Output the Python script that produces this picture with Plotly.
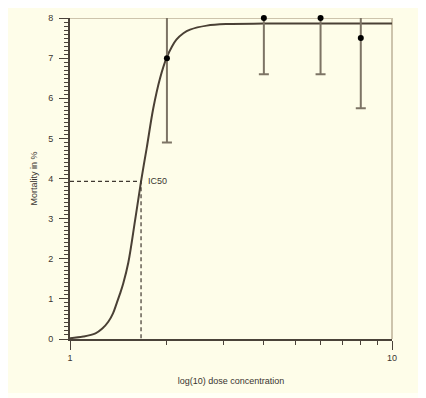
import plotly.graph_objects as go

dose = [2, 4, 6, 8]
mortality = [7.0, 8.0, 8.0, 7.5]
error = [2.1, 1.4, 1.4, 1.75]

# Fitted dose-response curve
curve_x = [1.0, 1.1, 1.2, 1.26, 1.315, 1.36, 1.396, 1.43, 1.464, 1.517, 1.592, 1.662,
           1.73, 1.814, 1.904, 2.0, 2.07, 2.14, 2.25, 2.36, 2.66, 3.07, 4.0, 6.0, 10.0]
curve_y = [0.02, 0.06, 0.14, 0.26, 0.43, 0.64, 0.89, 1.13, 1.39, 1.9, 2.95, 3.93,
           4.75, 5.75, 6.5, 7.03, 7.28, 7.46, 7.62, 7.71, 7.81, 7.85, 7.86, 7.86, 7.86]

# IC50 marker
ic50_x = 1.662
ic50_y = 3.93

x_ticks = [1, 10]
x_minor = [2, 3, 4, 5, 6, 7, 8, 9]
y_ticks = [0, 1, 2, 3, 4, 5, 6, 7, 8]
y_max = 8

bg = "#FEFDE9"
outer = "#FFFFF6"
axis_col = "#4A4239"
border_col = "#CDC4AC"
text_col = "#3A3530"

fig = go.Figure()

fig.add_trace(go.Scatter(
    x=curve_x, y=curve_y, mode="lines",
    line=dict(color="#4A4035", width=2, shape="spline", smoothing=1.0),
    hoverinfo="skip", showlegend=False,
))

fig.add_trace(go.Scatter(
    x=[1, ic50_x, ic50_x], y=[ic50_y, ic50_y, 0], mode="lines",
    line=dict(color="#3F3830", width=1.2, dash="4px,3px"),
    hoverinfo="skip", showlegend=False,
))

# error bars (clipped to plot area)
fig.add_trace(go.Scatter(
    x=dose, y=mortality, mode="markers",
    marker=dict(color="rgba(0,0,0,0)", size=1),
    error_y=dict(type="data", array=error, color="#7D7465", thickness=2, width=5),
    cliponaxis=True, hoverinfo="skip", showlegend=False,
))

# markers (not clipped)
fig.add_trace(go.Scatter(
    x=dose, y=mortality, mode="markers",
    marker=dict(color="black", size=6),
    cliponaxis=False, showlegend=False,
))

fig.add_annotation(x=0.2205, y=ic50_y, xref="x", yref="y", text="IC50",
                   showarrow=False, xanchor="left", xshift=5,
                   font=dict(size=9, color=text_col))

# cream panel (page has an 8px body margin; plot area sits at 70..392 x 18..339)
fig.add_shape(type="rect", xref="paper", yref="paper", layer="below",
              x0=(6 - 70) / 322, x1=(421 - 70) / 322,
              y0=(339 - 393) / 321, y1=(339 - 6) / 321,
              line=dict(width=0), fillcolor=bg)

# top and right frame lines (below the traces)
fig.add_shape(type="line", xref="x domain", yref="y", x0=0, x1=1, y0=y_max, y1=y_max,
              layer="below", line=dict(color=border_col, width=2))
fig.add_shape(type="line", xref="x domain", yref="y domain", x0=1, x1=1, y0=0, y1=1,
              layer="below", line=dict(color=border_col, width=2))

fig.update_xaxes(
    type="log", range=[0, 1], tickvals=x_ticks, ticktext=[str(v) for v in x_ticks],
    showgrid=False, zeroline=False, showline=True, linecolor=axis_col, linewidth=2,
    ticks="outside", ticklen=9, tickwidth=1, tickcolor=axis_col,
    minor=dict(ticks="outside", ticklen=4, tickwidth=1, tickcolor=axis_col,
               tickvals=x_minor, showgrid=False),
    tickfont=dict(size=9, color=text_col), automargin=False,
    title=dict(text="log(10) dose concentration", font=dict(size=9, color=text_col),
               standoff=16),
)
fig.update_yaxes(
    range=[0, y_max], tickvals=y_ticks,
    showgrid=False, zeroline=False, showline=True, linecolor=axis_col, linewidth=2,
    ticks="outside", ticklen=9, tickwidth=1, tickcolor=axis_col,
    minor=dict(ticks="outside", ticklen=4, tickwidth=1, tickcolor=axis_col,
               dtick=0.1, showgrid=False),
    tickfont=dict(size=9, color=text_col), ticklabelstandoff=4, automargin=False,
    title=dict(text="Mortality in %", font=dict(size=9, color=text_col), standoff=9),
)

fig.update_layout(
    width=426, height=398,
    margin=dict(l=62, r=42, t=10, b=67),
    paper_bgcolor=outer, plot_bgcolor=bg,
    font=dict(family="Liberation Sans, Arial, sans-serif"),
    showlegend=False,
)

fig.write_html("out.html")
